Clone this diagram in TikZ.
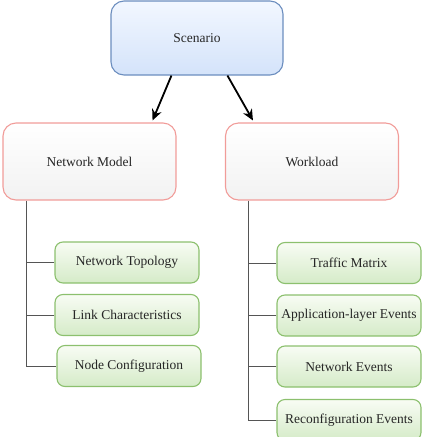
\documentclass[tikz,border=0pt]{standalone}
\usepackage{fontspec}
\setmainfont{Liberation Serif}
\usetikzlibrary{arrows.meta,calc}
\definecolor{blueB}{HTML}{6C8EBF}
\definecolor{blueT}{HTML}{D4E3FA}
\definecolor{blueL}{HTML}{F2F7FF}
\definecolor{redB}{HTML}{F19C99}
\definecolor{greyT}{HTML}{F2F2F2}
\definecolor{greenB}{HTML}{8CC06E}
\definecolor{greenT}{HTML}{D5EBC8}
\definecolor{greenL}{HTML}{F8FCF4}
\definecolor{treeC}{HTML}{555555}
\tikzset{
  base/.style={rectangle, align=center, font=\fontsize{13.5}{15}\selectfont, text=black!85},
  scenbox/.style={base, rounded corners=13pt, draw=blueB, line width=1.1pt, bottom color=blueT, top color=blueL, minimum width=172pt, minimum height=74pt},
  modbox/.style={base, rounded corners=13pt, draw=redB, line width=1.1pt, bottom color=greyT, top color=white, minimum width=173pt, minimum height=77pt},
  leafbox/.style={base, rounded corners=8pt, draw=greenB, line width=1.1pt, bottom color=greenT, top color=greenL, minimum width=144pt, minimum height=41pt, inner sep=1pt},
  arrowc/.style={line width=1.8pt, -{Stealth[length=11pt,width=10pt]}},
  treeline/.style={draw=treeC, line width=0.9pt}
}
\begin{document}
\begin{tikzpicture}[x=1pt,y=-1pt]
\useasboundingbox (0,0) rectangle (421,437);
\node[scenbox] (scen) at (197,38) {Scenario};
\node[modbox] (nm) at (89.5,161.5) {Network Model};
\node[modbox] (wl) at (312,161.5) {Workload};
\node[leafbox] (nt) at (127,262.5) {Network Topology};
\node[leafbox] (lc) at (127,315) {Link Characteristics};
\node[leafbox] (nc) at (129,366) {Node Configuration};
\node[leafbox] (tm) at (349,263) {Traffic Matrix};
\node[leafbox] (ae) at (349,315.5) {Application-layer Events};
\node[leafbox] (ne) at (349,366.5) {Network Events};
\node[leafbox] (re) at (349,420) {Reconfiguration Events};
% arrows
\coordinate (a1s) at ($(scen.south west)+(61,0)$);
\coordinate (a1e) at ($(nm.north east)+(-24,-2)$);
\coordinate (a2s) at ($(scen.south west)+(117,0)$);
\coordinate (a2e) at ($(wl.north west)+(28,-2)$);
\draw[arrowc] (a1s) -- (a1e);
\draw[arrowc] (a2s) -- (a2e);
% left tree
\coordinate (lt) at ($(nm.south west)+(24,0)$);
\draw[treeline] (lt) |- (nc.west);
\draw[treeline] (nt.west) -- (nt.west -| lt);
\draw[treeline] (lc.west) -- (lc.west -| lt);
% right tree
\coordinate (rt) at ($(wl.south west)+(23,0)$);
\draw[treeline] (rt) |- (re.west);
\draw[treeline] (tm.west) -- (tm.west -| rt);
\draw[treeline] (ae.west) -- (ae.west -| rt);
\draw[treeline] (ne.west) -- (ne.west -| rt);
\end{tikzpicture}
\end{document}
